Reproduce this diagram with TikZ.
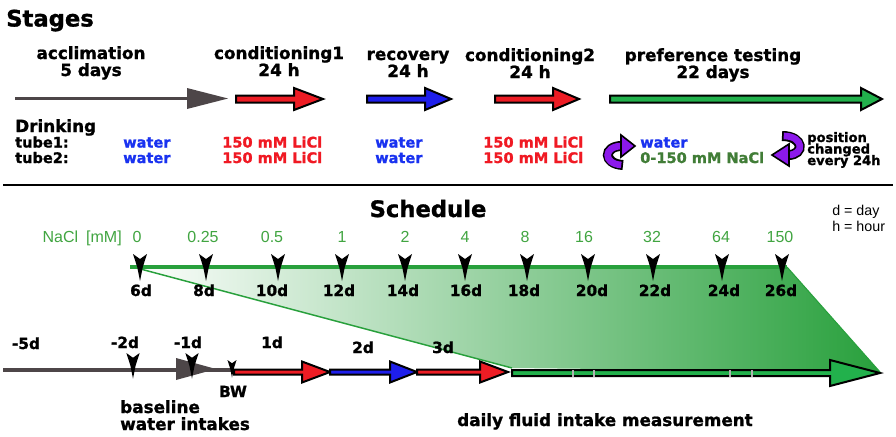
\documentclass[tikz,border=0pt]{standalone}
\usepackage{fontspec}
\setmainfont{Liberation Sans}
\newfontfamily\dvb{DejaVu Sans}[BoldFeatures={FakeBold=1.2}]
\definecolor{cred}{RGB}{237,28,36}
\definecolor{cblue}{RGB}{30,30,235}
\definecolor{cgreen}{RGB}{34,177,76}
\definecolor{tblue}{RGB}{25,50,240}
\definecolor{tred}{RGB}{240,25,35}
\definecolor{tdkgreen}{RGB}{65,125,55}
\definecolor{tgreen}{RGB}{65,165,65}
\definecolor{cgray}{RGB}{77,70,72}
\definecolor{cpurple}{RGB}{140,25,235}
\definecolor{gline}{RGB}{40,160,60}
% block arrow: x0, x head, x tip, y, shaft half, head half, colour
\newcommand{\barrow}[7]{%
  \draw[line width=1.5pt, fill=#7, line join=miter]
    (#1,#4-#5) -- (#2,#4-#5) -- (#2,#4-#6) -- (#3,#4) -- (#2,#4+#6) -- (#2,#4+#5) -- (#1,#4+#5) -- cycle;}
% down-pointing marker: x, y top, scale
\newcommand{\tickm}[3]{%
  \begin{scope}[shift={(#1,#2)}, scale=#3]
    \fill[black] (-7,0) -- (0,5) -- (7,0) -- (2.8,13) -- (0,27) -- (-2.8,13) -- cycle;
  \end{scope}}
\begin{document}
\begin{tikzpicture}[x=0.75pt,y=-0.75pt,
  bigtxt/.style={font=\dvb\bfseries\fontsize{17}{18}\selectfont, inner sep=0pt, anchor=base west},
  stg/.style={font=\dvb\bfseries\fontsize{12.6}{13}\selectfont, inner sep=0pt, anchor=base},
  tub/.style={font=\dvb\bfseries\fontsize{10.9}{11}\selectfont, inner sep=0pt, anchor=base west},
  conc/.style={font=\fontsize{12}{12}\selectfont, text=tgreen, inner sep=0pt, anchor=base},
  daytxt/.style={font=\dvb\bfseries\fontsize{11.5}{12}\selectfont, inner sep=0pt, anchor=base},
  smalltxt/.style={font=\fontsize{10.7}{10.7}\selectfont, inner sep=0pt, anchor=base west},
  posntxt/.style={font=\dvb\bfseries\fontsize{9.8}{10}\selectfont, inner sep=0pt, anchor=base west},
  purp/.style={line width=7.5pt, black},
  purpin/.style={line width=5pt, cpurple},
  purphead/.style={fill=cpurple, draw=black, line width=1.2pt, line join=miter}]
\useasboundingbox (0,0) rectangle (896,436);
\fill[white] (0,0) rectangle (896,436);

% ---------- Stages ----------
\node[bigtxt] (stages) at (6,26.5) {Stages};
\node[stg] (acc1) at (91,59) {acclimation};
\node[stg] (acc2) at (91,76) {5 days};
\node[stg] (con1a) at (279,59) {conditioning1};
\node[stg] (con1b) at (279,76) {24 h};
\node[stg] (rec1) at (408,60) {recovery};
\node[stg] (rec2) at (408,77) {24 h};
\node[stg] (con2a) at (530,61) {conditioning2};
\node[stg] (con2b) at (530,78) {24 h};
\node[stg] (pref1) at (713,61) {preference testing};
\node[stg] (pref2) at (713,78) {22 days};

% arrows
\draw[cgray, line width=2.6pt] (15,98.5) -- (190,98.5);
\fill[cgray] (187,88) -- (228,98.5) -- (187,109) -- cycle;
\barrow{236}{294}{323}{99}{3.5}{11}{cred}
\barrow{367}{425}{451}{99}{3.5}{11}{cblue}
\barrow{495}{553}{579}{99}{3.5}{11}{cred}
\barrow{610}{861}{882}{99}{3.5}{11}{cgreen}

% drinking
\node[stg, anchor=base west] (drink) at (15,132) {Drinking};
\node[tub] (t1) at (15,147.5) {tube1:};
\node[tub] (t2) at (15,163) {tube2:};
\node[tub, text=tblue] (w1) at (123,147.5) {water};
\node[tub, text=tblue] (w2) at (123,163) {water};
\node[tub, text=tred] (l1) at (222,147.5) {150 mM LiCl};
\node[tub, text=tred] (l2) at (222,163) {150 mM LiCl};
\node[tub, text=tblue] (w3) at (375,147.5) {water};
\node[tub, text=tblue] (w4) at (375,163) {water};
\node[tub, text=tred] (l3) at (483,147.5) {150 mM LiCl};
\node[tub, text=tred] (l4) at (483,163) {150 mM LiCl};
\node[tub, text=tblue] (w5) at (640,147.5) {water};
\node[tub, text=tdkgreen] (n1) at (640,163) {0-150 mM NaCl};
\node[posntxt] (p1) at (807,142) {position};
\node[posntxt] (p2) at (807,153.5) {changed};
\node[posntxt] (p3) at (807,165) {every 24h};

% purple swap arrows
\draw[purp] (623,165) .. controls (603,164) and (603,146) .. (622,146);
\draw[purpin, shorten <=1.3pt] (623,165) .. controls (603,164) and (603,146) .. (622,146);
\draw[purphead] (621,135) -- (635,146) -- (621,157) -- cycle;
\draw[purp] (782,136) .. controls (804,136) and (805,155) .. (788,155);
\draw[purpin, shorten <=1.3pt] (782,136) .. controls (804,136) and (805,155) .. (788,155);
\draw[purphead] (789,144) -- (772,155) -- (789,166) -- cycle;

% separator
\draw[black, line width=1pt] (3,185) -- (893,185);

% ---------- Schedule ----------
\node[bigtxt, anchor=base] (sched) at (428,217) {Schedule};
\node[smalltxt] (dday) at (832,215) {d = day};
\node[smalltxt] (hhour) at (832,231) {h = hour};
\node[conc, anchor=base east] (nacl) at (122,242) {NaCl\hspace{6pt}[mM]};

% gradient band
\shade[left color=white, right color=gline] (130,267) -- (787,267) -- (880,372) -- (512,368) -- cycle;
\draw[gline, line width=1.1pt] (133,267) -- (512,368);
\draw[gline, line width=0.8pt] (787,267) -- (880,372);
\draw[gline, line width=3pt] (130,267) -- (787,267);

\foreach \mx/\cx/\ct/\dx/\dt [count=\i] in
  {140/137/0/141/6d, 206/203/0.25/204/8d, 278/272/0.5/272/10d,
   342/342/1/339/12d, 405/405/2/403/14d, 465/465/4/466/16d,
   527/525/8/524/18d, 588/584/16/592/20d, 653/652/32/655/22d,
   722/721/64/724/24d, 782/780/150/781/26d}{
  \tickm{\mx}{254}{1}
  \node[conc] (conc\i) at (\cx,242) {\ct};
  \node[daytxt] (day\i) at (\dx,296) {\dt};
}

% lower timeline
\draw[cgray, line width=3pt] (3,370) -- (233,370);
\fill[cgray] (176,358) -- (216,369) -- (176,380) -- cycle;
\barrow{234}{302}{330}{372}{2.5}{10.5}{cred}
\barrow{330}{390}{417}{372}{2.5}{10.5}{cblue}
\barrow{417}{480}{508}{372}{2.5}{10.5}{cred}
\barrow{512}{830}{880}{373}{3}{13}{cgreen}
\foreach \gx in {573,594,730,752}{\fill[gray!60] (\gx-1,369.5) rectangle (\gx+1,376.5);}

\tickm{133}{353}{0.95}
\tickm{192}{353}{0.95}
\tickm{232}{360}{0.65}

\node[daytxt] (m5) at (26,349) {-5d};
\node[daytxt] (m2) at (125,348) {-2d};
\node[daytxt] (m1) at (188,348) {-1d};
\node[daytxt] (d1) at (272,348) {1d};
\node[daytxt] (d2) at (363,353) {2d};
\node[daytxt] (d3) at (443,353) {3d};
\node[daytxt] (bw) at (233,397) {BW};
\node[stg, anchor=base west] (base1) at (120,413) {baseline};
\node[stg, anchor=base west] (base2) at (120,430) {water intakes};
\node[stg] (daily) at (605,426) {daily fluid intake measurement};
\end{tikzpicture}
\end{document}
